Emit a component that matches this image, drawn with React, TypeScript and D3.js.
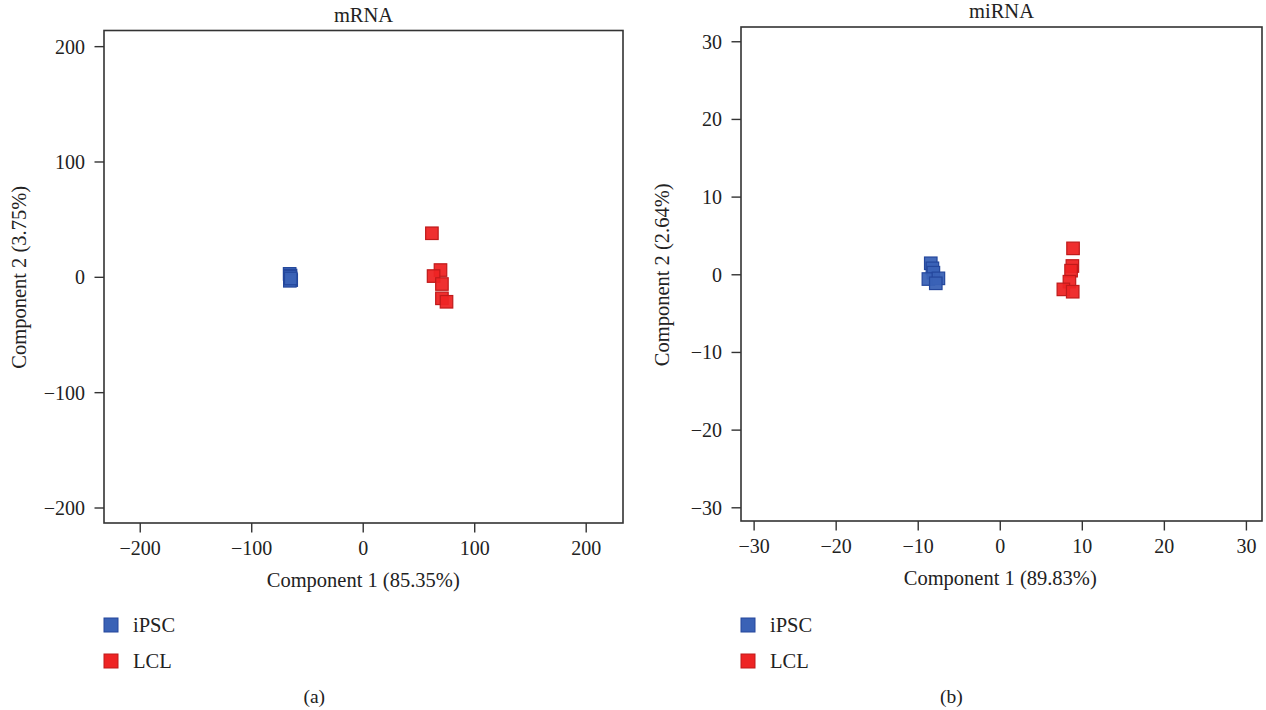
import React from "react";
import * as d3 from "d3";

const groups = ["iPSC", "LCL"];
const groupColors = ["#3a62b6", "#ee2424"];
const groupStrokes = ["#24479c", "#bf1a1a"];

const mrnaTicks = [-200, -100, 0, 100, 200];
const mirnaTicks = [-30, -20, -10, 0, 10, 20, 30];

const mrnaIpscX = [-66, -65.2, -65.6, -64.6, -65.8, -65];
const mrnaIpscY = [3, 1.5, 0.5, -2.4, -3, -1];
const mrnaLclX = [61.6, 69.3, 63.1, 70.6, 70.6, 74.7];
const mrnaLclY = [38.2, 6.3, 1.1, -5.8, -18.2, -21.2];

const mirnaIpscX = [-8.47, -8.27, -8.15, -8.76, -7.54, -7.86];
const mirnaIpscY = [1.48, 0.83, 0.27, -0.55, -0.46, -1.1];
const mirnaLclX = [8.87, 8.79, 8.63, 8.43, 7.69, 8.83];
const mirnaLclY = [3.4, 1.13, 0.53, -0.89, -1.88, -2.18];

const FONT = "'Liberation Serif', 'DejaVu Serif', serif";

type PanelProps = {
  title: string;
  xLabel: string;
  yLabel: string;
  letter: string;
  left: number;
  right: number;
  top: number;
  bottom: number;
  xDomain: [number, number];
  yDomain: [number, number];
  ticks: number[];
  series: { xs: number[]; ys: number[] }[];
  yLabelX: number;
};

function Panel(p: PanelProps) {
  const x = d3.scaleLinear().domain(p.xDomain).range([p.left, p.right]);
  const y = d3.scaleLinear().domain(p.yDomain).range([p.bottom, p.top]);
  const cx = x(0);
  const cy = y(0);
  const s = 12.5;
  const tl = 9.5;
  return (
    <g fontFamily={FONT} fill="#222">
      <text x={(p.left + p.right) / 2} y={p.top - 9} textAnchor="middle" fontSize={20.5}>
        {p.title}
      </text>
      {p.series.map((ser, gi) =>
        ser.xs.map((v, i) => (
          <rect
            key={gi + "-" + i}
            x={x(v) - s / 2}
            y={y(ser.ys[i]) - s / 2}
            width={s}
            height={s}
            fill={groupColors[gi]}
            stroke={groupStrokes[gi]}
            strokeWidth={1.2}
            fillOpacity={0.95}
          />
        ))
      )}
      <rect
        x={p.left}
        y={p.top}
        width={p.right - p.left}
        height={p.bottom - p.top}
        fill="none"
        stroke="#333"
        strokeWidth={1.6}
      />
      {p.ticks.map((t) => (
        <g key={"x" + t}>
          <line x1={x(t)} x2={x(t)} y1={p.bottom} y2={p.bottom + tl} stroke="#333" strokeWidth={1.4} />
          <text x={x(t)} y={p.bottom + 32} textAnchor="middle" fontSize={20}>
            {t < 0 ? "\u2212" + Math.abs(t) : String(t)}
          </text>
        </g>
      ))}
      {p.ticks.map((t) => (
        <g key={"y" + t}>
          <line x1={p.left - tl} x2={p.left} y1={y(t)} y2={y(t)} stroke="#333" strokeWidth={1.4} />
          <text x={p.left - 19} y={y(t) + 7} textAnchor="end" fontSize={20}>
            {t < 0 ? "\u2212" + Math.abs(t) : String(t)}
          </text>
        </g>
      ))}
      <text x={cx} y={p.bottom + 64} textAnchor="middle" fontSize={20.5}>
        {p.xLabel}
      </text>
      <text
        transform={`translate(${p.yLabelX},${cy}) rotate(-90)`}
        textAnchor="middle"
        fontSize={20.5}
      >
        {p.yLabel}
      </text>
      {groups.map((g, i) => (
        <g key={g}>
          <rect
            x={p.left}
            y={618 + i * 36}
            width={14}
            height={14}
            fill={groupColors[i]}
            stroke={groupStrokes[i]}
            strokeWidth={1}
          />
          <text x={p.left + 29} y={632 + i * 36} fontSize={20.5}>
            {g}
          </text>
        </g>
      ))}
      <text x={cx - 49} y={703} textAnchor="middle" fontSize={19.5}>
        {p.letter}
      </text>
    </g>
  );
}

export default function App() {
  return (
    <svg
      width={1266}
      height={710}
      style={{ position: "absolute", left: 0, top: 0, background: "#fff" }}
    >
      <Panel
        title="mRNA"
        xLabel="Component 1 (85.35%)"
        yLabel="Component 2 (3.75%)"
        letter="(a)"
        left={104}
        right={623}
        top={30.5}
        bottom={523}
        xDomain={[-232.5, 233]}
        yDomain={[-213, 214]}
        ticks={mrnaTicks}
        series={[
          { xs: mrnaIpscX, ys: mrnaIpscY },
          { xs: mrnaLclX, ys: mrnaLclY },
        ]}
        yLabelX={26}
      />
      <Panel
        title="miRNA"
        xLabel="Component 1 (89.83%)"
        yLabel="Component 2 (2.64%)"
        letter="(b)"
        left={741}
        right={1262}
        top={27}
        bottom={521}
        xDomain={[-31.6, 31.9]}
        yDomain={[-31.7, 31.9]}
        ticks={mirnaTicks}
        series={[
          { xs: mirnaIpscX, ys: mirnaIpscY },
          { xs: mirnaLclX, ys: mirnaLclY },
        ]}
        yLabelX={669}
      />
    </svg>
  );
}
